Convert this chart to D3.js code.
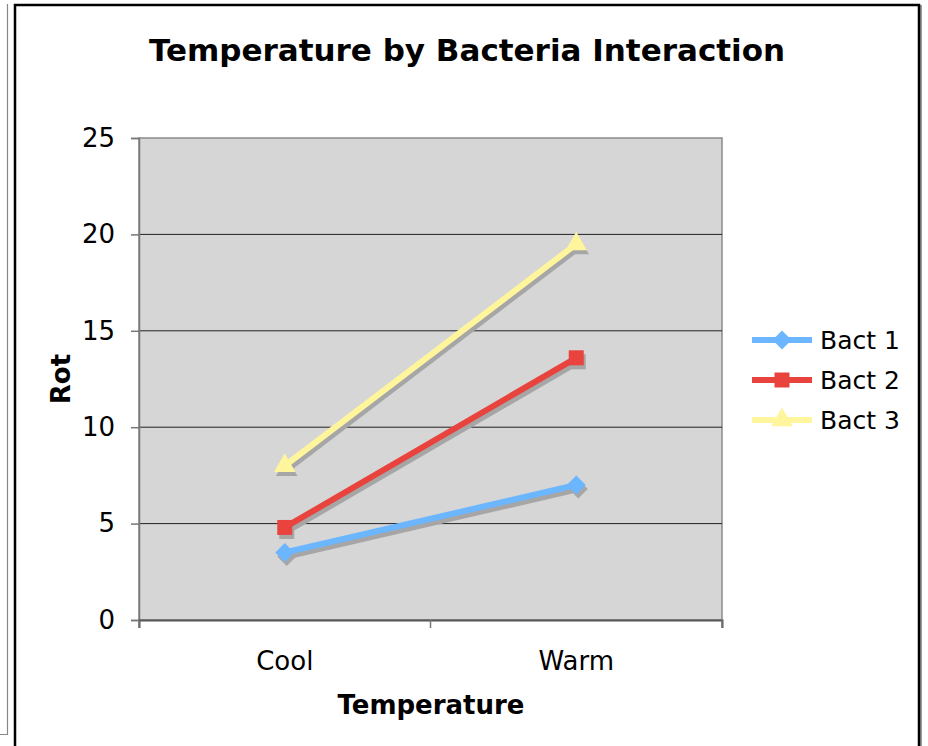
<!DOCTYPE html>
<html><head><meta charset="utf-8">
<script src="https://cdn.jsdelivr.net/npm/d3@7"></script>
<style>body{margin:0;background:#fff}svg{display:block}text{font-family:"DejaVu Sans",Verdana,sans-serif}</style>
</head><body>
<script>
const categories = ["Cool", "Warm"];
const seriesNames = ["Bact 1", "Bact 2", "Bact 3"];
const bact1 = [3.5, 7.0];
const bact2 = [4.8, 13.6];
const bact3 = [8.0, 19.5];
const yTicks = [0, 5, 10, 15, 20, 25];
const colors = ["#6bb6ff", "#e8433d", "#fff59c"];
const squareDiamond = {
  draw(ctx, size) {
    const r = Math.sqrt(size / 2);
    ctx.moveTo(0, -r); ctx.lineTo(r, 0); ctx.lineTo(0, r); ctx.lineTo(-r, 0); ctx.closePath();
  }
};
const symbols = [squareDiamond, d3.symbolSquare, d3.symbolTriangle];
const symSize = [180, 225, 200];
const series = [bact1, bact2, bact3];

const W = 928, H = 746;
const svg = d3.select("body").append("svg").attr("width", W).attr("height", H);

// outer frames
svg.append("path").attr("d", "M0,734.5 H7.5 V4").attr("fill","none").attr("stroke","#888").attr("stroke-width",1.2);
svg.append("rect").attr("x",16).attr("y",6).attr("width",905).attr("height",760).attr("fill","none").attr("stroke","#999").attr("stroke-width",2);
svg.append("rect").attr("x",15).attr("y",5).attr("width",904).attr("height",760).attr("fill","#fff").attr("stroke","#000").attr("stroke-width",2.5);

const m = {l:139, r:722, t:138, b:620};
const x = d3.scaleBand().domain(categories).range([m.l, m.r]);
const y = d3.scaleLinear().domain([0, 25]).range([m.b, m.t]);

svg.append("rect").attr("x",m.l).attr("y",m.t).attr("width",m.r-m.l).attr("height",m.b-m.t)
  .attr("fill","#d6d6d6").attr("stroke","#8a8a8a").attr("stroke-width",1.5);

// gridlines
svg.append("g").selectAll("line").data(yTicks.filter(v=>v>0 && v<25)).join("line")
  .attr("x1",m.l).attr("x2",m.r).attr("y1",d=>y(d)).attr("y2",d=>y(d))
  .attr("stroke","#222").attr("stroke-width",1);

// y axis
const ya = svg.append("g").attr("transform",`translate(${m.l},0)`)
  .call(d3.axisLeft(y).tickValues(yTicks).tickSize(8).tickPadding(16));
ya.select(".domain").attr("stroke","#777").attr("stroke-width",1.5);
ya.selectAll(".tick line").attr("stroke","#777").attr("stroke-width",1.5);
ya.selectAll(".tick text").attr("font-size",26).attr("fill","#000").attr("font-family","DejaVu Sans");

// x axis
const xa = svg.append("g").attr("transform",`translate(0,${m.b})`)
  .call(d3.axisBottom(x).tickSize(8).tickPadding(24));
xa.select(".domain").attr("stroke","#555").attr("stroke-width",2);
xa.selectAll(".tick line").remove();
xa.selectAll(".tick text").attr("font-size",26).attr("fill","#000").attr("font-family","DejaVu Sans");
const xtickPos = [m.l, m.l + x.bandwidth(), m.r];
svg.append("g").selectAll("line").data(xtickPos).join("line")
  .attr("x1",d=>d).attr("x2",d=>d).attr("y1",m.b).attr("y2",m.b+8).attr("stroke","#777").attr("stroke-width",1.5);

// title and axis titles
svg.append("text").attr("x",467).attr("y",61).attr("text-anchor","middle")
  .attr("font-size",31).attr("font-weight","bold").text("Temperature by Bacteria Interaction");
svg.append("text").attr("x",431).attr("y",714).attr("text-anchor","middle")
  .attr("font-size",26).attr("font-weight","bold").text("Temperature");
svg.append("text").attr("transform","translate(70,379) rotate(-90)").attr("text-anchor","middle")
  .attr("font-size",26).attr("font-weight","bold").text("Rot");

const cx = c => x(c) + x.bandwidth()/2;
const line = d3.line().x((d,i)=>cx(categories[i])).y(d=>y(d));

// shadows
series.forEach((s,k)=>{
  const g = svg.append("g").attr("transform","translate(2,4)");
  g.append("path").attr("d",line(s)).attr("fill","none").attr("stroke","#a6a6a6").attr("stroke-width",6);
  g.selectAll("path.m").data(s).join("path").attr("class","m")
    .attr("transform",(d,i)=>`translate(${cx(categories[i])},${y(d)})`)
    .attr("d",d3.symbol().type(symbols[k]).size(symSize[k])).attr("fill","#a6a6a6");
});
// series
series.forEach((s,k)=>{
  svg.append("path").attr("d",line(s)).attr("fill","none").attr("stroke",colors[k]).attr("stroke-width",6);
  svg.selectAll(null).data(s).join("path")
    .attr("transform",(d,i)=>`translate(${cx(categories[i])},${y(d)})`)
    .attr("d",d3.symbol().type(symbols[k]).size(symSize[k])).attr("fill",colors[k]);
});

// legend
const lg = svg.append("g");
seriesNames.forEach((n,k)=>{
  const yy = 340 + k*40;
  lg.append("line").attr("x1",752).attr("x2",812).attr("y1",yy).attr("y2",yy).attr("stroke",colors[k]).attr("stroke-width",6);
  lg.append("path").attr("transform",`translate(782,${yy})`).attr("d",d3.symbol().type(symbols[k]).size(symSize[k])).attr("fill",colors[k]);
  lg.append("text").attr("x",820).attr("y",yy+9).attr("font-size",25).text(n);
});
</script>
</body></html>
